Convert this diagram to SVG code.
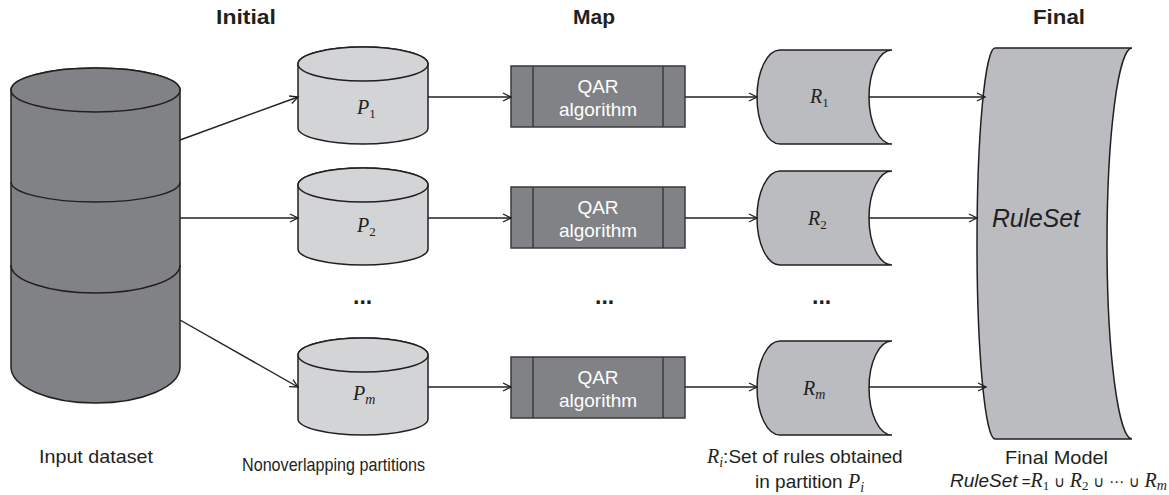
<svg xmlns="http://www.w3.org/2000/svg" width="1169" height="495" viewBox="0 0 1169 495">
<defs>
<marker id="arr" markerWidth="12" markerHeight="12" refX="9" refY="5" orient="auto" markerUnits="userSpaceOnUse">
<path d="M1,1 L9,5 L1,9" fill="none" stroke="#231f20" stroke-width="1.3"/>
</marker>
<style>
.ln{stroke:#231f20;stroke-width:1.4;fill:none;marker-end:url(#arr)}
.sh{stroke:#231f20;stroke-width:1.5}
.big{fill:#808285}
.part{fill:#d3d4d6}
.qar{fill:#808285;stroke:#3a3a3c;stroke-width:1.5}
.rs{fill:#bbbcc0}
.hd{font-family:"Liberation Sans",Arial,sans-serif;font-weight:bold;font-size:21px;fill:#231f20}
.lb{font-family:"Liberation Sans",Arial,sans-serif;font-size:19px;fill:#231f20}
.qt{font-family:"Liberation Sans",Arial,sans-serif;font-size:19px;fill:#ffffff;text-anchor:middle}
.mt{font-family:"Liberation Serif","DejaVu Serif",serif;font-style:italic;font-size:20px;fill:#231f20}
.sub{font-style:normal;font-size:13px}
.isub{font-style:italic;font-size:14px}
.dots{font-family:"Liberation Sans",Arial,sans-serif;font-weight:bold;font-size:23px;fill:#231f20}
</style>
</defs>

<g id="headers">
<text class="hd" x="216" y="24" textLength="60" lengthAdjust="spacingAndGlyphs">Initial</text>
<text class="hd" x="573" y="24" textLength="42" lengthAdjust="spacingAndGlyphs">Map</text>
<text class="hd" x="1033" y="24" textLength="52" lengthAdjust="spacingAndGlyphs">Final</text>
</g>

<g id="input-dataset">
<path class="sh big" d="M11,90 A84.5,22 0 0 1 180,90 L180,367 A84.5,36 0 0 1 11,367 Z"/>
<ellipse class="sh big" cx="95.5" cy="90" rx="84.5" ry="22"/>
<path class="sh" fill="none" d="M11,182 A84.5,20 0 0 0 180,182"/>
<path class="sh" fill="none" d="M11,265 A84.5,28 0 0 0 180,265"/>
<text class="lb" x="39" y="463" textLength="114" lengthAdjust="spacingAndGlyphs">Input dataset</text>
</g>

<g id="P1">
<path class="sh part" d="M298,64 A65,17 0 0 1 428,64 L428,128 A65,16 0 0 1 298,128 Z"/>
<ellipse class="sh part" cx="363" cy="64" rx="65" ry="17"/>
<text class="mt" x="357" y="114">P<tspan class="sub" dy="4">1</tspan></text>
</g>
<g id="P2">
<path class="sh part" d="M298,185 A65,17 0 0 1 428,185 L428,249 A65,16 0 0 1 298,249 Z"/>
<ellipse class="sh part" cx="363" cy="185" rx="65" ry="17"/>
<text class="mt" x="357" y="232">P<tspan class="sub" dy="4">2</tspan></text>
</g>
<g id="Pm">
<path class="sh part" d="M298,355 A65,17 0 0 1 428,355 L428,419 A65,16 0 0 1 298,419 Z"/>
<ellipse class="sh part" cx="363" cy="355" rx="65" ry="17"/>
<text class="mt" x="353" y="400">P<tspan class="isub" dy="4">m</tspan></text>
</g>
<g id="partitions-label">
<text class="lb" x="242" y="471" font-size="18" textLength="183" lengthAdjust="spacingAndGlyphs">Nonoverlapping partitions</text>
</g>

<g id="QAR1">
<rect class="qar" x="511" y="66" width="174" height="61"/>
<line class="qar" x1="533" y1="66" x2="533" y2="127"/>
<line class="qar" x1="663" y1="66" x2="663" y2="127"/>
<text class="qt" x="598" y="93">QAR</text>
<text class="qt" x="598" y="116">algorithm</text>
</g>
<g id="QAR2">
<rect class="qar" x="511" y="187" width="174" height="61"/>
<line class="qar" x1="533" y1="187" x2="533" y2="248"/>
<line class="qar" x1="663" y1="187" x2="663" y2="248"/>
<text class="qt" x="598" y="214">QAR</text>
<text class="qt" x="598" y="237">algorithm</text>
</g>
<g id="QARm">
<rect class="qar" x="511" y="357" width="174" height="61"/>
<line class="qar" x1="533" y1="357" x2="533" y2="418"/>
<line class="qar" x1="663" y1="357" x2="663" y2="418"/>
<text class="qt" x="598" y="384">QAR</text>
<text class="qt" x="598" y="407">algorithm</text>
</g>

<g id="R1">
<path class="sh rs" d="M780,50 L892,50 A23,47 0 0 0 892,144 L780,144 A23,47 0 0 1 780,50 Z"/>
<text class="mt" x="810" y="103">R<tspan class="sub" dy="4">1</tspan></text>
</g>
<g id="R2">
<path class="sh rs" d="M780,171 L892,171 A23,47 0 0 0 892,265 L780,265 A23,47 0 0 1 780,171 Z"/>
<text class="mt" x="808" y="225">R<tspan class="sub" dy="4">2</tspan></text>
</g>
<g id="Rm">
<path class="sh rs" d="M780,341 L892,341 A23,47 0 0 0 892,435 L780,435 A23,47 0 0 1 780,341 Z"/>
<text class="mt" x="803" y="395">R<tspan class="isub" dy="4">m</tspan></text>
</g>
<g id="R-label">
<text class="lb" x="707" y="463"><tspan class="mt">R<tspan class="isub" dy="4">i</tspan></tspan><tspan dy="-4">:Set of rules obtained</tspan></text>
<text class="lb" x="755" y="488">in partition <tspan class="mt">P<tspan class="isub" dy="4">i</tspan></tspan></text>
</g>

<g id="final">
<path class="sh rs" d="M995,48 L1132,48 A25,195.5 0 0 0 1132,439 L995,439 A18,195.5 0 0 1 995,48 Z"/>
<text x="992" y="227" font-family="'Liberation Sans',Arial,sans-serif" font-style="italic" font-size="25" fill="#231f20" textLength="88" lengthAdjust="spacingAndGlyphs">RuleSet</text>
<text class="lb" x="1005" y="464" textLength="103" lengthAdjust="spacingAndGlyphs">Final Model</text>
<text class="lb" x="950" y="487"><tspan font-style="italic">RuleSet</tspan><tspan font-size="15"> =</tspan><tspan class="mt" font-size="18">R<tspan class="sub" dy="3">1</tspan><tspan font-size="15" font-style="normal" dy="-3" font-family="'DejaVu Sans',sans-serif"> ∪ </tspan>R<tspan class="sub" dy="3">2</tspan><tspan font-size="15" font-style="normal" dy="-3" font-family="'DejaVu Sans',sans-serif"> ∪ ⋯ ∪ </tspan>R<tspan class="isub" dy="3">m</tspan></tspan></text>
</g>

<g id="ellipsis">
<text class="dots" x="353" y="304">...</text>
<text class="dots" x="595" y="304">...</text>
<text class="dots" x="812" y="304">...</text>
</g>

<g id="connectors">
<line class="ln" x1="180" y1="140" x2="298" y2="97"/>
<line class="ln" x1="180" y1="218" x2="298" y2="218"/>
<line class="ln" x1="180" y1="320" x2="298" y2="387"/>
<line class="ln" x1="428" y1="97" x2="511" y2="97"/>
<line class="ln" x1="428" y1="218" x2="511" y2="218"/>
<line class="ln" x1="428" y1="387" x2="511" y2="387"/>
<line class="ln" x1="685" y1="97" x2="757" y2="97"/>
<line class="ln" x1="685" y1="218" x2="757" y2="218"/>
<line class="ln" x1="685" y1="387" x2="757" y2="387"/>
<line class="ln" x1="869" y1="97" x2="985" y2="97"/>
<line class="ln" x1="869" y1="218" x2="977" y2="218"/>
<line class="ln" x1="869" y1="387" x2="986" y2="387"/>
</g>
</svg>
